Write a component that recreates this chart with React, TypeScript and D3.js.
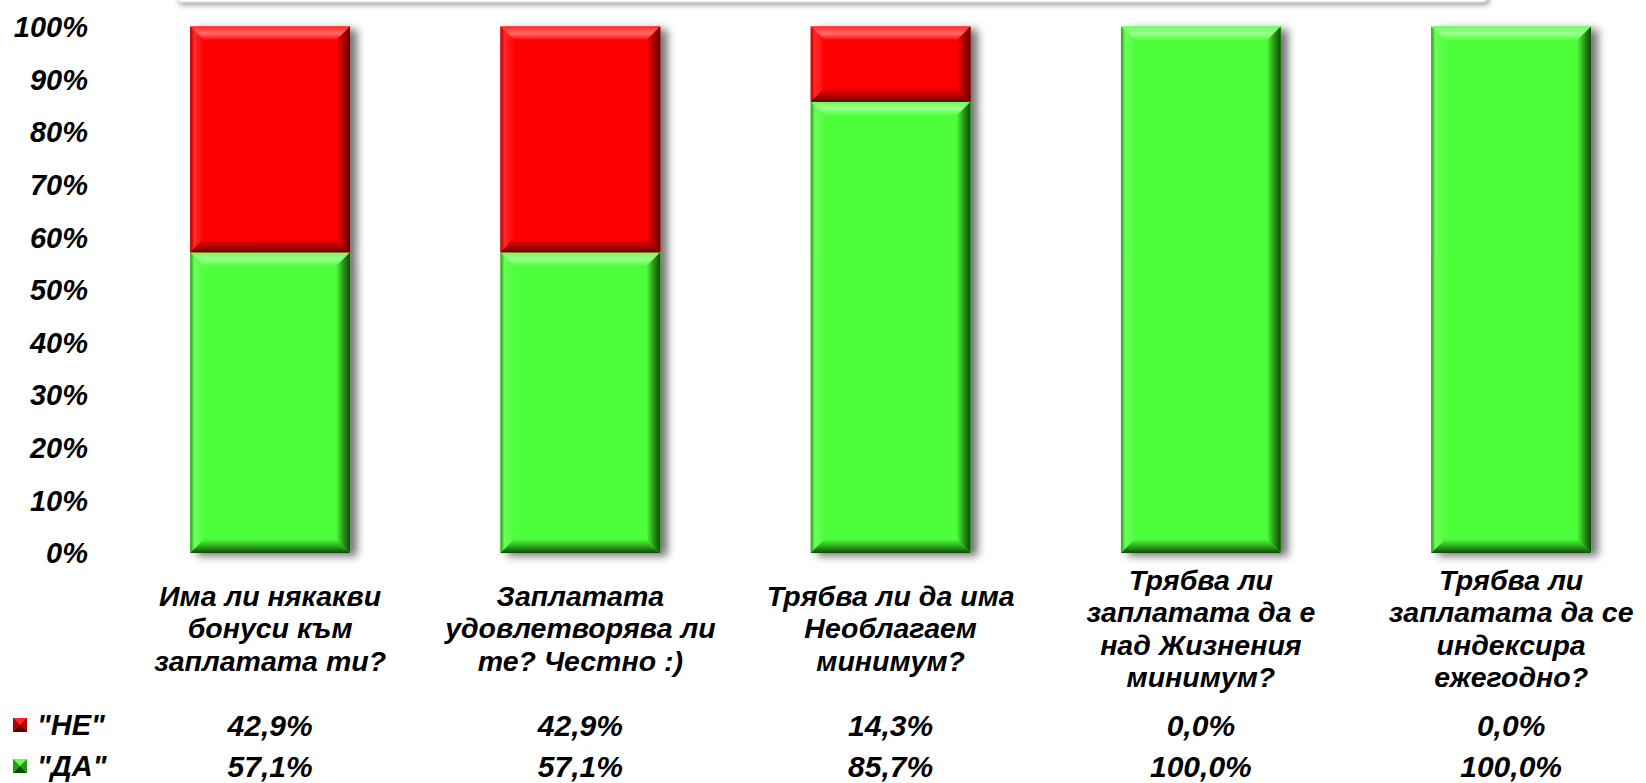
import React from "react";
import * as d3 from "d3";

const categories = [
  ["Има ли някакви", "бонуси към", "заплатата ти?"],
  ["Заплатата", "удовлетворява ли", "те? Честно :)"],
  ["Трябва ли да има", "Необлагаем", "минимум?"],
  ["Трябва ли", "заплатата да е", "над Жизнения", "минимум?"],
  ["Трябва ли", "заплатата да се", "индексира", "ежегодно?"],
];
const neValues = [42.9, 42.9, 14.3, 0, 0];
const daValues = [57.1, 57.1, 85.7, 100, 100];
const yTicks = [0, 10, 20, 30, 40, 50, 60, 70, 80, 90, 100];
const seriesNames = ['"НЕ"', '"ДА"'];

const W = 1646;
const H = 783;
const FONT = "Arial, 'Liberation Sans', sans-serif";

const shades: any = {
  red: { base: "#ff0000", light: "#ff6a6a", mid: "#ff2a2a", dark: "#5a0000", dark2: "#b00000" },
  green: { base: "#4dff3a", light: "#9dff8e", mid: "#6cff5a", dark: "#0d4a06", dark2: "#2a9a1a" },
};

const fmt = (v: number) => v.toFixed(1).replace(".", ",") + "%";

const Bevel = ({ x, y, w, h, c }: any) => {
  const b = Math.min(14, h / 2);
  const p = (pts: number[][]) => pts.map((d) => d.join(",")).join(" ");
  return (
    <g>
      <rect x={x} y={y} width={w} height={h} fill={shades[c].base} />
      <polygon points={p([[x, y], [x + w, y], [x + w - b, y + b], [x + b, y + b]])} fill={`url(#top-${c})`} />
      <polygon points={p([[x, y], [x + b, y + b], [x + b, y + h - b], [x, y + h]])} fill={`url(#left-${c})`} />
      <polygon points={p([[x + w, y], [x + w - b, y + b], [x + w - b, y + h - b], [x + w, y + h]])} fill={`url(#right-${c})`} />
      <polygon points={p([[x, y + h], [x + w, y + h], [x + w - b, y + h - b], [x + b, y + h - b]])} fill={`url(#bottom-${c})`} />
    </g>
  );
};

const Marker = ({ x, y, c }: any) => {
  const s = 14;
  const cx = x + s / 2;
  const cy = y + s / 2;
  return (
    <g>
      <rect x={x} y={y} width={s} height={s} fill={shades[c].base} />
      <polygon points={`${x},${y} ${x + s},${y} ${cx},${cy}`} fill={shades[c].mid} />
      <polygon points={`${x},${y} ${x},${y + s} ${cx},${cy}`} fill={shades[c].dark2} />
      <polygon points={`${x + s},${y} ${x + s},${y + s} ${cx},${cy}`} fill={shades[c].dark2} />
      <polygon points={`${x},${y + s} ${x + s},${y + s} ${cx},${cy}`} fill={shades[c].dark} />
    </g>
  );
};

export default function App() {
  const x = d3
    .scaleBand<number>()
    .domain(d3.range(categories.length))
    .range([115, 115 + 310.25 * 5])
    .paddingInner(0.485)
    .paddingOuter(0.2425);
  const y = d3.scaleLinear().domain([0, 100]).range([553, 26.5]);

  const stacked = categories.map((_, i) => ({ i, da: daValues[i], ne: neValues[i] }));

  const grads = Object.keys(shades).map((c) => {
    const s = shades[c];
    return (
      <React.Fragment key={c}>
        <linearGradient id={`top-${c}`} x1="0" y1="0" x2="0" y2="1">
          <stop offset="0" stopColor={s.mid} />
          <stop offset="0.5" stopColor={s.light} />
          <stop offset="1" stopColor={s.base} />
        </linearGradient>
        <linearGradient id={`left-${c}`} x1="0" y1="0" x2="1" y2="0">
          <stop offset="0" stopColor={s.dark2} />
          <stop offset="0.3" stopColor={s.mid} />
          <stop offset="1" stopColor={s.base} />
        </linearGradient>
        <linearGradient id={`right-${c}`} x1="0" y1="0" x2="1" y2="0">
          <stop offset="0" stopColor={s.base} />
          <stop offset="0.5" stopColor={s.dark2} />
          <stop offset="1" stopColor={s.dark} />
        </linearGradient>
        <linearGradient id={`bottom-${c}`} x1="0" y1="0" x2="0" y2="1">
          <stop offset="0" stopColor={s.base} />
          <stop offset="0.6" stopColor={s.dark2} />
          <stop offset="1" stopColor={s.dark} />
        </linearGradient>
      </React.Fragment>
    );
  });

  const lineH = 32.5;
  const labelMid = 628;

  return (
    <svg
      width={W}
      height={H}
      style={{ position: "absolute", left: 0, top: 0, background: "#fff" }}
      fontFamily={FONT}
      fontWeight="bold"
      fontStyle="italic"
    >
      <defs>
        {grads}
        <filter id="shadow" x="-20%" y="-20%" width="150%" height="150%">
          <feDropShadow dx="7" dy="3" stdDeviation="4" floodColor="#000" floodOpacity="0.55" />
        </filter>
        <filter id="boxShadow" x="-5%" y="-50%" width="110%" height="200%">
          <feDropShadow dx="2" dy="3" stdDeviation="2.5" floodColor="#000" floodOpacity="0.35" />
        </filter>
      </defs>

      {/* header box cut off at the top */}
      <rect x={177} y={-40} width={1310} height={42} rx={4} fill="#fff" stroke="#d8d8d8" filter="url(#boxShadow)" />

      {/* y axis labels */}
      {yTicks.map((t) => (
        <text key={t} x={88} y={y(t)} dy="0.36em" textAnchor="end" fontSize={29} fill="#000">
          {t}%
        </text>
      ))}

      {/* stacked bars */}
      {stacked.map((d) => {
        const bx = x(d.i)!;
        const bw = x.bandwidth();
        return (
          <g key={d.i} filter="url(#shadow)">
            {d.da > 0 && <Bevel x={bx} y={y(d.da)} w={bw} h={y(0) - y(d.da)} c="green" />}
            {d.ne > 0 && <Bevel x={bx} y={y(d.da + d.ne)} w={bw} h={y(d.da) - y(d.da + d.ne)} c="red" />}
          </g>
        );
      })}

      {/* category labels */}
      {categories.map((lines, i) => {
        const cx = x(i)! + x.bandwidth() / 2;
        const top = labelMid - ((lines.length - 1) * lineH) / 2;
        return (
          <text key={i} textAnchor="middle" fontSize={28.5} fill="#000">
            {lines.map((l, j) => (
              <tspan key={j} x={cx} y={top + j * lineH} dy="0.36em">
                {l}
              </tspan>
            ))}
          </text>
        );
      })}

      {/* data table legend */}
      {[neValues, daValues].map((vals, r) => {
        const ry = r === 0 ? 725 : 766;
        return (
          <g key={r}>
            <Marker x={13} y={ry - 7} c={r === 0 ? "red" : "green"} />
            <text x={37} y={ry} dy="0.36em" fontSize={29} fill="#000">
              {seriesNames[r]}
            </text>
            {vals.map((v, i) => (
              <text key={i} x={x(i)! + x.bandwidth() / 2} y={ry} dy="0.36em" textAnchor="middle" fontSize={30} fill="#000">
                {fmt(v)}
              </text>
            ))}
          </g>
        );
      })}
    </svg>
  );
}
